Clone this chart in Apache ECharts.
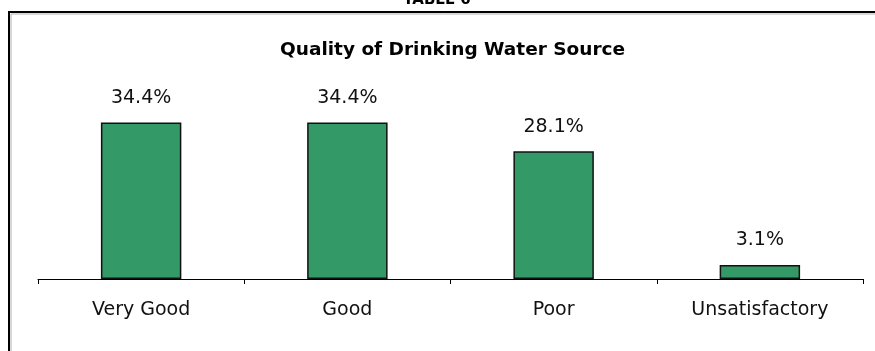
<!DOCTYPE html>
<html>
<head>
<meta charset="utf-8">
<script src="https://cdn.jsdelivr.net/npm/echarts@6/dist/echarts.min.js"></script>
<style>
  html, body { margin: 0; padding: 0; background: #fff; }
  #chart { width: 875px; height: 351px; }
</style>
</head>
<body>
<div id="chart"></div>
<script>
// Survey results: quality rating of the drinking water source (percent of respondents)
const categories = ['Very Good', 'Good', 'Poor', 'Unsatisfactory'];
const shares = [34.4, 34.4, 28.1, 3.1];
const tableHeading = 'TABLE 6';
const chartTitle = 'Quality of Drinking Water Source';

const FONT = '"DejaVu Sans", "Liberation Sans", Arial, sans-serif';

const chart = echarts.init(document.getElementById('chart'), null, { renderer: 'canvas' });

chart.setOption({
  animation: false,
  backgroundColor: '#ffffff',
  title: {
    text: chartTitle,
    left: 275,
    top: 36,
    textStyle: { fontFamily: FONT, fontSize: 18.5, fontWeight: 'bold', color: '#000' }
  },
  graphic: [
    {
      // outer frame around the chart area
      type: 'rect',
      shape: { x: 9, y: 12, width: 900, height: 400 },
      style: { fill: 'none', stroke: '#000', lineWidth: 2 },
      silent: true
    },
    {
      type: 'rect',
      shape: { x: 11, y: 14, width: 900, height: 400 },
      style: { fill: 'none', stroke: '#b0b0b0', lineWidth: 1 },
      silent: true
    },
    {
      type: 'text',
      x: 437,
      y: 8,
      style: {
        text: tableHeading,
        fontFamily: FONT,
        fontSize: 15,
        fontWeight: 'bold',
        fill: '#000',
        align: 'center',
        verticalAlign: 'bottom'
      },
      silent: true
    }
  ],
  grid: { left: 38, right: 12, top: 97, bottom: 72, containLabel: false },
  xAxis: {
    type: 'category',
    data: categories,
    boundaryGap: true,
    axisLine: { show: true, lineStyle: { color: '#000', width: 1 } },
    axisTick: { show: true, length: 5, lineStyle: { color: '#000', width: 1 } },
    axisLabel: {
      margin: 22,
      fontFamily: FONT,
      fontSize: 19,
      color: '#111',
      interval: 0
    }
  },
  yAxis: {
    type: 'value',
    min: 0,
    max: 40,
    show: false,
    splitLine: { show: false }
  },
  series: [
    {
      type: 'bar',
      data: shares,
      barCategoryGap: '61%',
      itemStyle: { color: '#339966', borderColor: '#111', borderWidth: 1.5 },
      label: {
        show: true,
        position: 'top',
        distance: 15,
        formatter: p => p.value.toFixed(1) + '%',
        fontFamily: FONT,
        fontSize: 19,
        color: '#111'
      }
    }
  ]
});
</script>
</body>
</html>
